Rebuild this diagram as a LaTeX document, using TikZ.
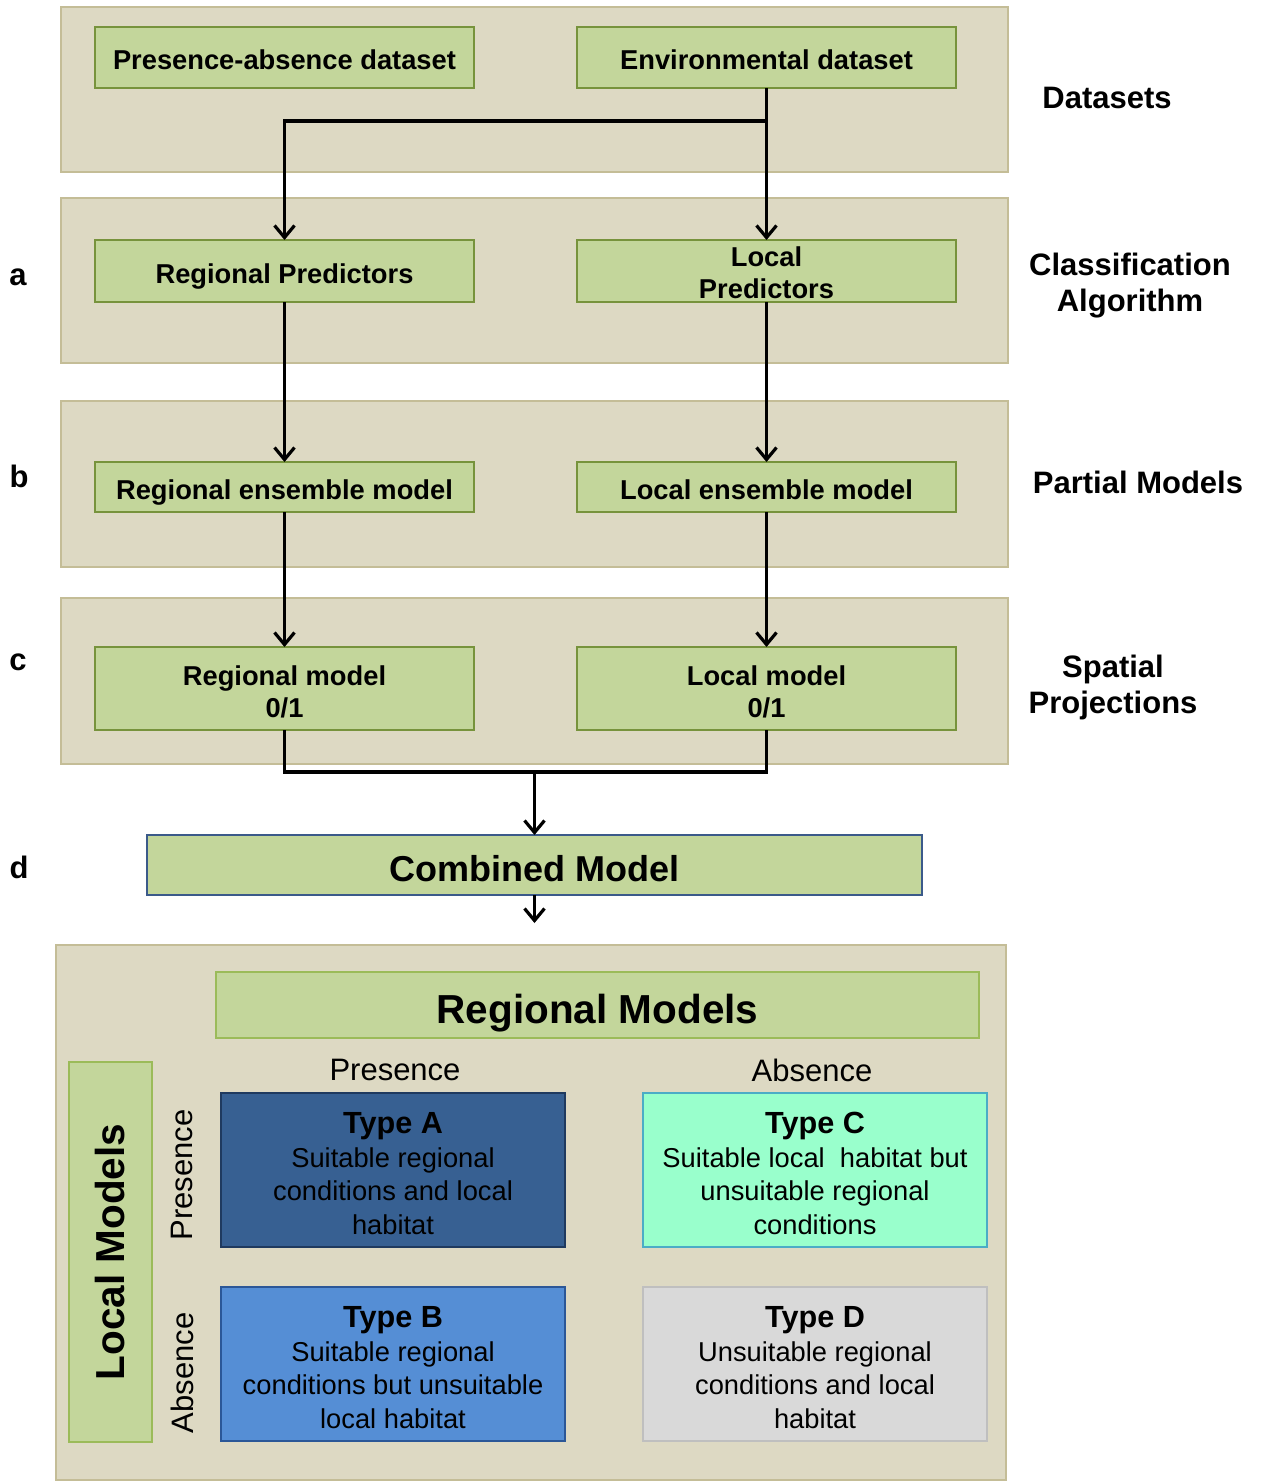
\documentclass[tikz,border=0pt]{standalone}
\usepackage{fontspec}
\setmainfont{Liberation Sans}
\usetikzlibrary{arrows.meta}
\definecolor{panelfill}{HTML}{DDD9C3}
\definecolor{panelline}{HTML}{C4BD97}
\definecolor{gfill}{HTML}{C3D69B}
\definecolor{gline}{HTML}{77933C}
\definecolor{gline2}{HTML}{9BBB59}
\definecolor{combline}{HTML}{3B5A8A}
\definecolor{afill}{HTML}{376092}
\definecolor{aline}{HTML}{1F3A5F}
\definecolor{bfill}{HTML}{558ED5}
\definecolor{bline}{HTML}{2B5797}
\definecolor{cfill}{HTML}{99FFCC}
\definecolor{cline}{HTML}{4BACC6}
\definecolor{dfill}{HTML}{D9D9D9}
\definecolor{dline}{HTML}{BFBFBF}
\tikzset{
  rect/.style={inner sep=0pt, outer sep=0pt},
  panel/.style={rect, draw=panelline, fill=panelfill, line width=1.5pt},
  gbox/.style={rect, draw=gline, fill=gfill, line width=1.5pt, align=center,
    font=\fontsize{27.3}{32}\selectfont\bfseries},
  oneline/.style={text height=30pt, text depth=5.5pt},
  onebig/.style={text height=39.6pt, text depth=7.2pt},
  onehuge/.style={text height=44.5pt, text depth=8.1pt},
  side/.style={align=center, font=\fontsize{31}{36}\selectfont\bfseries},
  letter/.style={font=\fontsize{31}{36}\selectfont\bfseries},
  typebox/.style={rect, line width=1.5pt, align=center,
    minimum width=344, minimum height=154,
    font=\fontsize{27.3}{33.5}\selectfont},
  head/.style={font=\fontsize{31}{36}\selectfont},
  arr/.style={line width=3.2pt, -{Straight Barb[length=12pt,width=20pt]}},
  link/.style={line width=3.5pt, line join=miter}
}
\begin{document}
\begin{tikzpicture}[x=1pt,y=-1pt]
\useasboundingbox (0,0) rectangle (1265,1482);
% panels
\node[panel, minimum width=947, minimum height=165] (p1) at (534.5,89.5) {};
\node[panel, minimum width=947, minimum height=165] (p2) at (534.5,280.5) {};
\node[panel, minimum width=947, minimum height=166] (p3) at (534.5,484) {};
\node[panel, minimum width=947, minimum height=166] (p4) at (534.5,681) {};
\node[panel, minimum width=950, minimum height=535] (p5) at (531,1212.5) {};
% green boxes
\node[gbox, oneline, minimum width=379, minimum height=61] (pa) at (284.5,57.5) {Presence-absence dataset};
\node[gbox, oneline, minimum width=379, minimum height=61] (env) at (766.5,57.5) {Environmental dataset};
\node[gbox, oneline, minimum width=379, minimum height=62] (regpred) at (284.5,271) {Regional Predictors};
\node[gbox, minimum width=379, minimum height=62] (locpred) at (766.5,271) {\rule{0pt}{24pt}Local\\Predictors};
\node[gbox, oneline, minimum width=379, minimum height=50] (regens) at (284.5,487) {Regional ensemble model};
\node[gbox, oneline, minimum width=379, minimum height=50] (locens) at (766.5,487) {Local ensemble model};
\node[gbox, minimum width=379, minimum height=83] (regmod) at (284.5,688.5) {\rule{0pt}{26pt}Regional model\\0/1};
\node[gbox, minimum width=379, minimum height=83] (locmod) at (766.5,688.5) {\rule{0pt}{26pt}Local model\\0/1};
\node[gbox, onebig, draw=combline, minimum width=775, minimum height=60, font=\fontsize{36}{40}\selectfont\bfseries] (comb) at (534.5,865) {Combined Model};
% side labels
\node[side] (ldata) at (1107,98) {Datasets};
\node[side] (lclass) at (1130,286) {Classification\\Algorithm};
\node[side] (lpart) at (1138,482) {Partial Models};
\node[side] (lspat) at (1113,687) {Spatial\\Projections};
\node[letter] (la) at (18,277) {a};
\node[letter] (lb) at (19,476) {b};
\node[letter] (lc) at (18,662) {c};
\node[letter] (ld) at (19,867) {d};
% connectors
\coordinate (br) at (766.5,121);
\draw[arr] (env.south) -- (locpred.north);
\draw[arr] (br) -| (regpred.north);
\draw[arr] (regpred.south) -- (regens.north);
\draw[arr] (locpred.south) -- (locens.north);
\draw[arr] (regens.south) -- (regmod.north);
\draw[arr] (locens.south) -- (locmod.north);
\coordinate (jn) at (534.5,772);
\draw[link] (regmod.south) |- (jn) -| (locmod.south);
\draw[arr] (jn) -- (comb.north);
\coordinate (out) at (534.5,923);
\draw[arr] (comb.south) -- (out);
% bottom panel content
\node[gbox, onehuge, draw=gline2, minimum width=763, minimum height=66, font=\fontsize{40.5}{44}\selectfont\bfseries] (regm) at (597.5,1005) {Regional Models};
\node[gbox, draw=gline2, minimum width=380, minimum height=83, font=\fontsize{40.5}{44}\selectfont\bfseries, rotate=90] (locm) at (110.5,1252) {Local Models};
\node[head] (hpres) at (395,1070) {Presence};
\node[head] (habs) at (812,1070) {Absence};
\node[head, rotate=90] (vpres) at (182,1175) {Presence};
\node[head, rotate=90] (vabs) at (182,1373) {Absence};
\node[typebox, draw=aline, fill=afill] (ta) at (393,1170) {{\fontsize{30.6}{33.5}\selectfont\bfseries\rule{0pt}{28pt}Type A}\\Suitable regional\\conditions and local\\habitat};
\node[typebox, draw=cline, fill=cfill] (tc) at (815,1170) {{\fontsize{30.6}{33.5}\selectfont\bfseries\rule{0pt}{28pt}Type C}\\Suitable local\ \ habitat but\\unsuitable regional\\conditions};
\node[typebox, draw=bline, fill=bfill] (tb) at (393,1364) {{\fontsize{30.6}{33.5}\selectfont\bfseries\rule{0pt}{28pt}Type B}\\Suitable regional\\conditions but unsuitable\\local habitat};
\node[typebox, draw=dline, fill=dfill] (td) at (815,1364) {{\fontsize{30.6}{33.5}\selectfont\bfseries\rule{0pt}{28pt}Type D}\\Unsuitable regional\\conditions and local\\habitat};
\end{tikzpicture}
\end{document}
